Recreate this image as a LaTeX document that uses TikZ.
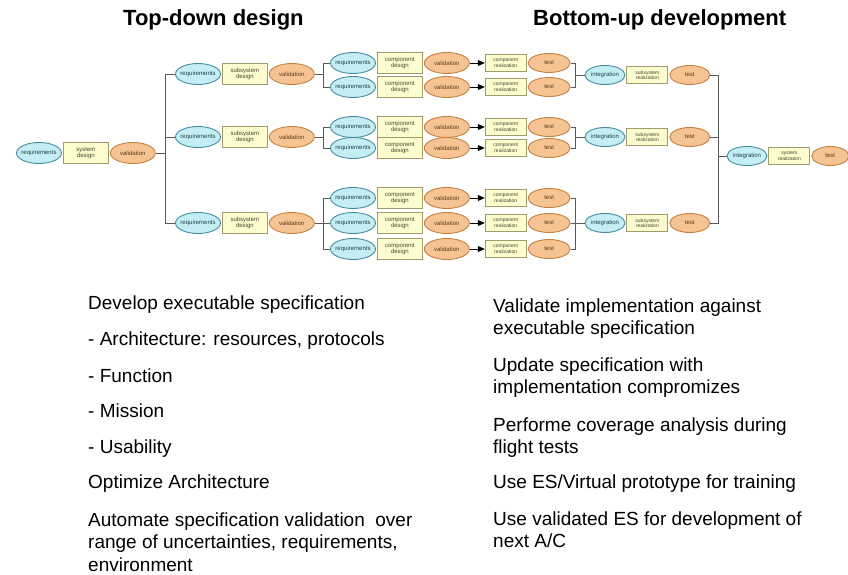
\documentclass[tikz,border=0pt]{standalone}
\usepackage{fontspec}
\setmainfont{Liberation Sans}
\usetikzlibrary{positioning}
\usetikzlibrary{shapes.geometric}
\usetikzlibrary{arrows.meta}
\definecolor{reqfill}{RGB}{196,238,244}
\definecolor{reqline}{RGB}{70,140,160}
\definecolor{valfill}{RGB}{246,196,146}
\definecolor{valline}{RGB}{196,128,64}
\definecolor{desfill}{RGB}{252,252,206}
\definecolor{desline}{RGB}{160,156,110}
\definecolor{wirecol}{RGB}{90,90,90}
\tikzset{
	req/.style={ellipse,draw=reqline,fill=reqfill,line width=0.9pt,minimum width=45,minimum height=21,inner sep=0pt,inner xsep=-3pt,text=reqline!45!black,font=\fontsize{6}{6.5}\selectfont},
	val/.style={req,draw=valline,fill=valfill,text=valline!45!black},
	des/.style={rectangle,draw=desline,fill=desfill,line width=0.9pt,minimum width=45,minimum height=21,inner sep=0pt,align=center,text=desline!45!black,font=\fontsize{6}{6.5}\selectfont},
	wire/.style={draw=wirecol,line width=0.8pt},
	spec/.style={anchor=base west,inner sep=0pt,align=left,font=\fontsize{19}{22.5}\selectfont},
	head/.style={anchor=base west,inner sep=0pt,font=\fontsize{22}{26}\selectfont\bfseries},
}

\begin{document}
\begin{tikzpicture}[x=1pt,y=-1pt]
	\useasboundingbox (0,0) rectangle (848,575);

	% headings...................
	\node [head] (tdhead) at (123,26) {Top-down design};
	\node [head] (buhead) at (533,26) {Bottom-up development};

	% system level...................
	\node [req] (sreq) at (39,153) {requirements};
	\node [des, right=1pt of sreq] (sdes) {system\\design};
	\node [val, right=1pt of sdes] (sval) {validation};
	\coordinate (b0) at (165,153);
	\draw [wire] (sval.east) -- (b0);

	% subsystem level....................
	\foreach \r/\y in {1/74,2/137,3/223} {
		\node [req] (ssreq\r) at (198,\y) {requirements};
		\node [des, right=1pt of ssreq\r] (ssdes\r) {subsystem\\design};
		\node [val, right=1pt of ssdes\r] (ssval\r) {validation};
		\coordinate (b\r) at (323,\y);
		\draw [wire] (b0) |- (ssreq\r.west);
		\draw [wire] (ssval\r.east) -- (b\r);
	}

	% component level....................
	\foreach \n/\y in {1a/63,1b/87,2a/127,2b/148,3a/198,3b/223,3c/249} {
		\node [req] (creq\n) at (353,\y) {requirements};
		\node [des, right=1pt of creq\n] (cdes\n) {component\\design};
		\node [val, right=1pt of cdes\n] (cval\n) {validation};
		\node [des, minimum width=41, minimum height=17, font=\fontsize{5}{5.5}\selectfont, right=15pt of cval\n] (creal\n) {component\\realization};
		\node [val, minimum width=42, minimum height=19, right=1pt of creal\n] (ctest\n) {test};
		\draw [-{Triangle[length=7pt,width=6pt]}, line width=0.8pt] (cval\n.east) -- (creal\n.west);
	}

	% integration of subsystems.............
	\foreach \r/\y in {1/75,2/137,3/223} {
		\coordinate (j\r) at (575,\y);
		\node [req, minimum width=40, minimum height=19] (ireq\r) at (605,\y) {integration};
		\node [des, minimum width=41, minimum height=17, font=\fontsize{5}{5.5}\selectfont, right=1pt of ireq\r] (ides\r) {subsystem\\realization};
		\node [val, minimum width=40, minimum height=19, right=1pt of ides\r] (itest\r) {test};
		\draw [wire] (j\r) -- (ireq\r.west);
	}

	% branches and joins.................
	\foreach \r/\n in {1/1a,1/1b,2/2a,2/2b,3/3a,3/3b,3/3c} {
		\draw [wire] (b\r) |- (creq\n.west);
		\draw [wire] (ctest\n.east) -| (j\r);
	}

	% system integration...................
	\coordinate (f) at (718,156);
	\node [req, minimum width=40, minimum height=19] (freq) at (747,156) {integration};
	\node [des, minimum width=41, minimum height=17, font=\fontsize{5}{5.5}\selectfont, right=1pt of freq] (fdes) {system\\realization};
	\node [val, minimum width=37, minimum height=19, right=1pt of fdes] (ftest) {test};
	\draw [wire] (itest1.east) -| (f);
	\draw [wire] (itest2.east) -| (f);
	\draw [wire] (itest3.east) -| (f);
	\draw [wire] (f) -- (freq.west);

	% top-down text (base = last line)...............
	\node [spec] (td1) at (88,309) {Develop executable specification};
	\node [spec] (td2) at (88,345) {- Architecture: resources, protocols};
	\node [spec] (td3) at (88,382) {- Function};
	\node [spec] (td4) at (88,417) {- Mission};
	\node [spec] (td5) at (88,453) {- Usability};
	\node [spec] (td6) at (88,488) {Optimize Architecture};
	\node [spec] (td7) at (88,571) {Automate specification validation\ \ over\\range of uncertainties, requirements,\\environment};

	% bottom-up text..............................
	\node [spec] (bu1) at (493,334.5) {Validate implementation against\\executable specification};
	\node [spec] (bu2) at (493,393.5) {Update specification with\\implementation compromizes};
	\node [spec] (bu3) at (493,453.5) {Performe coverage analysis during\\flight tests};
	\node [spec] (bu4) at (493,488) {Use ES/Virtual prototype for training};
	\node [spec] (bu5) at (493,547.5) {Use validated ES for development of\\next A/C};
\end{tikzpicture}
\end{document}
